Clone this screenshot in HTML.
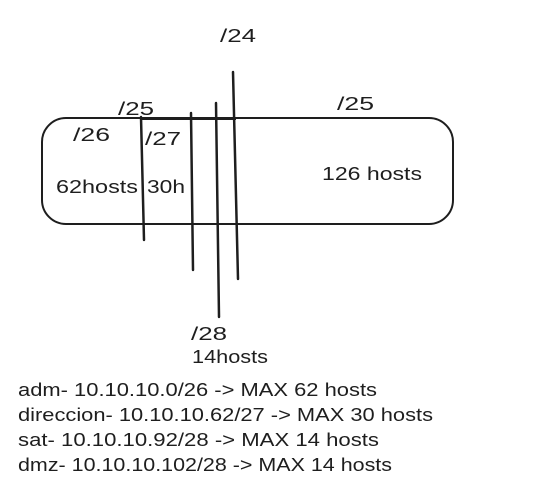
<!DOCTYPE html>
<html><head><meta charset="utf-8"><style>html,body{margin:0;padding:0;background:#fff;width:545px;height:502px;overflow:hidden}</style></head>
<body>
<svg width="545" height="502" viewBox="0 0 545 502" xmlns="http://www.w3.org/2000/svg" font-family="Liberation Sans, sans-serif" font-size="18" fill="#1e1e1e">
<rect x="42" y="118" width="411" height="106" rx="24" fill="none" stroke="#1e1e1e" stroke-width="2"/>
<line x1="140" y1="118.5" x2="236" y2="118.5" stroke="#1e1e1e" stroke-width="3"/>
<g stroke="#1e1e1e" stroke-width="2.5" stroke-linecap="round">
<line x1="141" y1="117" x2="144" y2="240"/>
<line x1="191" y1="113" x2="193" y2="270"/>
<line x1="216" y1="103" x2="219" y2="317"/>
<line x1="233" y1="72" x2="238" y2="279"/>
</g>
<text x="220" y="42" textLength="36" lengthAdjust="spacingAndGlyphs">/24</text>
<text x="118" y="115" textLength="36" lengthAdjust="spacingAndGlyphs">/25</text>
<text x="337" y="110" textLength="37" lengthAdjust="spacingAndGlyphs">/25</text>
<text x="73" y="141" textLength="37" lengthAdjust="spacingAndGlyphs">/26</text>
<text x="145" y="145" textLength="36" lengthAdjust="spacingAndGlyphs">/27</text>
<text x="56" y="193" textLength="82" lengthAdjust="spacingAndGlyphs">62hosts</text>
<text x="147" y="193" textLength="38" lengthAdjust="spacingAndGlyphs">30h</text>
<text x="322" y="180" textLength="100" lengthAdjust="spacingAndGlyphs">126 hosts</text>
<text x="191" y="340" textLength="36" lengthAdjust="spacingAndGlyphs">/28</text>
<text x="192" y="363" textLength="76" lengthAdjust="spacingAndGlyphs">14hosts</text>
<text x="18" y="396" textLength="359" lengthAdjust="spacingAndGlyphs">adm- 10.10.10.0/26 -&gt; MAX 62 hosts</text>
<text x="18" y="421" textLength="415" lengthAdjust="spacingAndGlyphs">direccion- 10.10.10.62/27 -&gt; MAX 30 hosts</text>
<text x="18" y="446" textLength="361" lengthAdjust="spacingAndGlyphs">sat- 10.10.10.92/28 -&gt; MAX 14 hosts</text>
<text x="18" y="471" textLength="374" lengthAdjust="spacingAndGlyphs">dmz- 10.10.10.102/28 -&gt; MAX 14 hosts</text>
</svg>
</body></html>
